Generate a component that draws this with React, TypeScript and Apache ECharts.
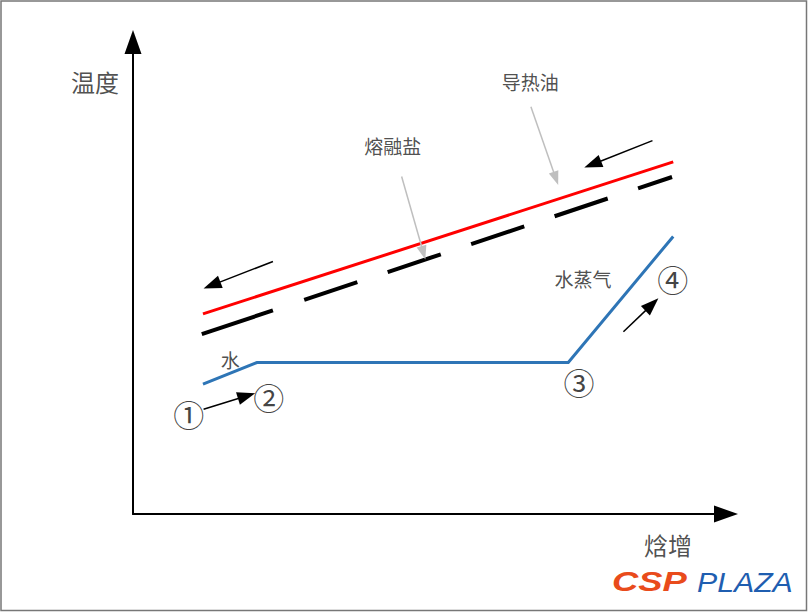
import React, { useEffect, useRef } from 'react';
import * as echarts from 'echarts';

// Schematic values in abstract units (x: enthalpy 0–100, y: temperature 0–100)
const oilLine: number[][] = [[11.8, 42.4], [91.1, 74.6]]; // 导热油 (red)
const saltLine: number[][] = [[11.6, 38.1], [90.9, 71.4]]; // 熔融盐 (black dashed)
const waterLine: number[][] = [[11.8, 27.5], [20.9, 32.1], [73.4, 32.1], [91.1, 58.8]]; // 水/水蒸气 (blue)

// arrows: [x1, y1, x2(tip), y2(tip)]
const flowArrows: number[][] = [
  [87.6, 79.1, 76.1, 73.4],
  [23.6, 53.5, 11.9, 47.8],
  [11.9, 22.2, 20.6, 25.6],
  [82.7, 38.6, 88.6, 45.7],
];
const pointerArrows: number[][] = [
  [45.3, 71.5, 49.3, 53.9],
  [67.1, 86.3, 71.7, 69.7],
];

const axisTitles = ['温度', '焓增'];
const axisTitlePos: number[][] = [[-6.4, 91.7], [90.2, -6.4]];
const labelTexts = ['导热油', '熔融盐', '水', '水蒸气'];
const labelPos: number[][] = [[67.0, 91.7], [43.8, 78.0], [16.4, 32.8], [75.9, 50.0]];
const stateMarks = ['①', '②', '③', '④'];
const statePos: number[][] = [[9.4, 21.2], [22.9, 25.0], [75.2, 28.0], [91.0, 49.8]];

const CJK = '"Noto Sans CJK SC", "Noto Sans", sans-serif';

function arrowRenderer(headLen: number, headWidth: number, color: string, width: number) {
  return (params: any, api: any) => {
    const p1 = api.coord([api.value(0), api.value(1)]);
    const p2 = api.coord([api.value(2), api.value(3)]);
    const dx = p2[0] - p1[0];
    const dy = p2[1] - p1[1];
    const len = Math.hypot(dx, dy) || 1;
    const ux = dx / len;
    const uy = dy / len;
    const bx = p2[0] - ux * headLen;
    const by = p2[1] - uy * headLen;
    const hw = headWidth / 2;
    return {
      type: 'group',
      children: [
        {
          type: 'line',
          shape: { x1: p1[0], y1: p1[1], x2: bx + ux * 2, y2: by + uy * 2 },
          style: { stroke: color, lineWidth: width },
        },
        {
          type: 'polygon',
          shape: {
            points: [
              [p2[0], p2[1]],
              [bx - uy * hw, by + ux * hw],
              [bx + uy * hw, by - ux * hw],
            ],
          },
          style: { fill: color },
        },
      ],
    };
  };
}

function textSeries(names: string[], pos: number[][], fontSize: number, color: string) {
  return {
    type: 'scatter',
    symbolSize: 0,
    clip: false,
    silent: true,
    z: 10,
    data: names.map((n, i) => ({ name: n, value: pos[i] })),
    label: {
      show: true,
      position: 'inside',
      formatter: '{b}',
      fontSize,
      fontFamily: CJK,
      color,
    },
  };
}

export default function App() {
  const ref = useRef<HTMLDivElement>(null);
  useEffect(() => {
    if (!ref.current) return;
    const chart = echarts.init(ref.current, undefined, { renderer: 'svg' });
    const axisCommon = {
      type: 'value',
      min: 0,
      max: 100,
      axisLine: {
        show: true,
        symbol: ['none', 'triangle'],
        symbolSize: [17, 24],
        lineStyle: { color: '#000', width: 2 },
      },
      axisTick: { show: false },
      axisLabel: { show: false },
      splitLine: { show: false },
    };
    chart.setOption({
      animation: false,
      backgroundColor: '#fff',
      grid: { left: 133, right: 82, top: 42, bottom: 99 },
      xAxis: { ...axisCommon },
      yAxis: { ...axisCommon },
      series: [
        {
          type: 'line',
          data: saltLine,
          symbol: 'none',
          z: 3,
          lineStyle: { color: '#000', width: 4, type: [75, 33, 56, 32, 56, 32, 56, 32, 56, 32, 56, 32], cap: 'butt' },
        },
        {
          type: 'line',
          data: oilLine,
          symbol: 'none',
          z: 4,
          lineStyle: { color: '#ff0000', width: 3 },
        },
        {
          type: 'line',
          data: waterLine,
          symbol: 'none',
          z: 4,
          lineStyle: { color: '#2e75b6', width: 3, join: 'miter' },
        },
        {
          type: 'custom',
          z: 6,
          silent: true,
          renderItem: arrowRenderer(18, 13, '#000', 1.5),
          data: flowArrows,
        },
        {
          type: 'custom',
          z: 6,
          silent: true,
          renderItem: arrowRenderer(14, 10, '#bfbfbf', 1.5),
          data: pointerArrows,
        },
        textSeries(axisTitles, axisTitlePos, 24, '#222'),
        textSeries(labelTexts, labelPos, 19, '#222'),
        textSeries(stateMarks, statePos, 31, '#111'),
      ],
      graphic: [
        {
          type: 'rect',
          silent: true,
          z: 100,
          shape: { x: 1, y: 1, width: 805.5, height: 609.5 },
          style: { fill: 'transparent', stroke: '#777', lineWidth: 1.5 },
        },
        {
          type: 'text',
          x: 612,
          y: 582,
          scaleX: 1.3,
          silent: true,
          style: {
            text: 'CSP',
            fontSize: 28,
            fontWeight: 900,
            fontStyle: 'italic',
            fontFamily: '"Liberation Sans", Arial, sans-serif',
            fill: '#e94b1b',
            align: 'left',
            verticalAlign: 'middle',
          },
        },
        {
          type: 'text',
          x: 697,
          y: 582,
          scaleX: 1.08,
          silent: true,
          style: {
            text: 'PLAZA',
            fontSize: 28,
            fontStyle: 'italic',
            fontFamily: '"Liberation Sans", Arial, sans-serif',
            fill: '#1f5eb0',
            align: 'left',
            verticalAlign: 'middle',
          },
        },
      ],
    });
    return () => chart.dispose();
  }, []);
  return (
    <div
      ref={ref}
      style={{ position: 'fixed', left: 0, top: 0, width: 808, height: 613, background: '#fff' }}
    />
  );
}
